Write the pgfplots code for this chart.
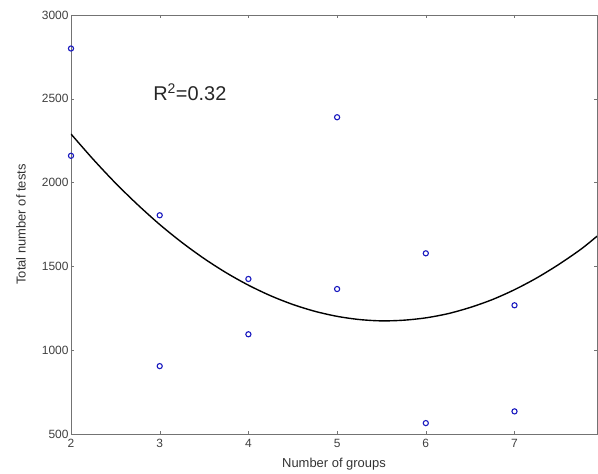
\documentclass[border=0pt]{standalone}
\usepackage{pgfplots}
\pgfplotsset{compat=1.18}
\usepackage{fontspec}
\setmainfont{Liberation Sans}
\definecolor{mblue}{rgb}{0.1,0.1,0.75}
\definecolor{axgray}{gray}{0.45}
\begin{document}
\begin{tikzpicture}
\path[use as bounding box] (-71bp,-40bp) rectangle (527bp,434bp);
\begin{axis}[
  scale only axis, width=526bp, height=419bp,
  xmin=2, xmax=7.93, ymin=500, ymax=3000,
  xtick={2,3,4,5,6,7}, ytick={500,1000,1500,2000,2500,3000},
  tick align=inside, major tick length=3pt,
  axis line style={axgray}, every tick/.style={axgray},
  tick label style={font=\fontsize{12}{13}\selectfont, text=black!75},
  xticklabel style={yshift=-1.5pt}, yticklabel style={xshift=1pt},
  /pgf/number format/assume math mode=true,
  /pgf/number format/1000 sep={},
  xlabel={Number of groups}, ylabel={Total number of tests},
  label style={font=\fontsize{13}{14}\selectfont, text=black!80},
  xlabel style={at={(axis description cs:0.5,0)}, anchor=center, yshift=-30bp},
  ylabel style={at={(axis description cs:-0.095,0.5)}, anchor=center},
]
\addplot[only marks, mark=o, mark size=2.6pt, mblue, line width=1.1pt] coordinates {
  (2,2800) (2,2160) (3,1805) (3,905) (4,1425) (4,1095) (5,2390) (5,1365)
  (6,1578) (6,565) (7,1268) (7,635)};
\addplot[black, line width=1.4pt, smooth] coordinates {
  (2,2290) (2.25,2139) (2.5,1998) (2.75,1869) (3,1750) (3.25,1643) (3.5,1547)
  (3.75,1462) (4,1388) (4.25,1325) (4.5,1273) (4.75,1232) (5,1202) (5.25,1183)
  (5.5,1175) (5.75,1179) (6,1193) (6.25,1218) (6.5,1255) (6.75,1302) (7,1361)
  (7.25,1431) (7.5,1512) (7.75,1603) (7.93,1680)};
\node[font=\fontsize{20}{22}\selectfont, text=black!85] at (axis cs:3.34,2540) {R\textsuperscript{2}=0.32};
\end{axis}
\end{tikzpicture}
\end{document}
